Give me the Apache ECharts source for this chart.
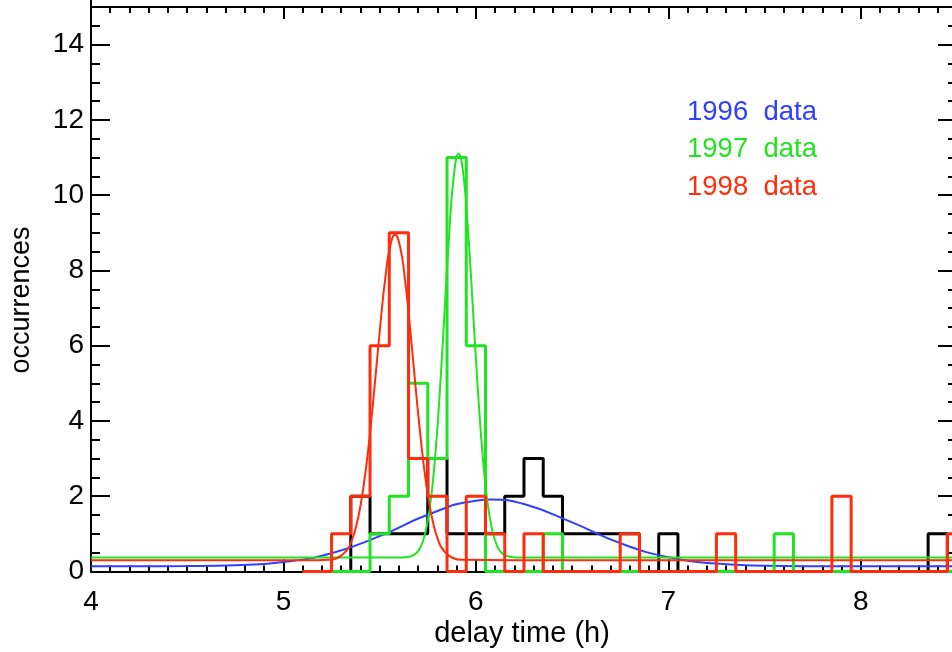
<!DOCTYPE html>
<html><head><meta charset="utf-8">
<script src="https://cdn.jsdelivr.net/npm/echarts@6/dist/echarts.min.js"></script>
<style>html,body{margin:0;padding:0;background:#fff}#c{width:952px;height:652px}</style>
</head><body><div id="c"></div>
<script>
// ---- data ----
const binWidth = 0.1;
const firstBinCenter = 5.1;
// histogram counts per 0.1 h bin, starting at bin centre 5.1 h
const counts1996 = [0,0,0,2,1,1,1,3,1,1,1,2,3,2,1,1,1,1,0,1,0,0,0,0,0,0,0,0,0,0,0,0,0,1,0];
const counts1997 = [0,0,0,0,1,2,5,3,11,6,0,0,0,1,0,0,0,0,0,0,0,0,0,0,0,1,0,0,0,0,0,0,0,0,0];
const counts1998 = [0,0,1,2,6,9,3,2,0,2,1,0,1,0,0,0,0,1,0,0,0,0,1,0,0,0,0,0,2,0,0,0,0,0,1];
// fitted curves
const fitX1996 = [4.0,4.25,4.5,4.75,5.0,5.25,5.5,5.75,6.0,6.08,6.25,6.5,6.75,7.0,7.25,7.5,7.75,8.0,8.5];
const fitY1996 = [0.14,0.141,0.145,0.167,0.252,0.487,0.939,1.508,1.883,1.91,1.793,1.306,0.753,0.379,0.21,0.155,0.142,0.14,0.14];
const fitX1997 = [4.0,5.0,5.5,5.61,5.66,5.685,5.71,5.735,5.76,5.785,5.81,5.835,5.86,5.885,5.91,5.935,5.96,5.985,6.01,6.035,6.06,6.085,6.11,6.135,6.16,6.21,6.5,7.5,8.5];
const fitY1997 = [0.37,0.37,0.37,0.372,0.40,0.463,0.62,0.98,1.67,2.85,4.57,6.70,8.86,10.49,11.10,10.55,9.0,6.95,4.85,3.1,1.85,1.1,0.68,0.49,0.41,0.375,0.37,0.37,0.37];
const fitX1998 = [4.0,5.0,5.18,5.23,5.28,5.33,5.355,5.38,5.405,5.43,5.455,5.48,5.505,5.53,5.555,5.58,5.605,5.63,5.655,5.68,5.705,5.73,5.755,5.78,5.805,5.83,5.88,5.93,6.2,7.5,8.5];
const fitY1998 = [0.3,0.3,0.30,0.31,0.359,0.571,0.823,1.243,1.886,2.79,3.94,5.27,6.63,7.83,8.655,8.95,8.655,7.83,6.63,5.27,3.94,2.79,1.886,1.243,0.823,0.571,0.359,0.31,0.3,0.3,0.3];
const xTicks = {min: 4, max: 9, step: 1};
const yTicks = {min: 0, max: 16, step: 2};
const legendLabels = ['1996  data', '1997  data', '1998  data'];
const xTitle = 'delay time (h)';
const yTitle = 'occurrences';

// ---- styling ----
const BLUE = '#2f3fff', GREEN = '#1fe41f', RED = '#ff2d0c';
const FONT = '"Liberation Sans", Arial, sans-serif';

function histData(counts) {
  return counts.map((c, i) => [Number((firstBinCenter + i * binWidth).toFixed(2)), c]);
}
function zip(xs, ys) { return xs.map((x, i) => [x, ys[i]]); }

const chart = echarts.init(document.getElementById('c'), null, {renderer: 'canvas'});
const axisLine = {show: true, onZero: false, lineStyle: {color: '#000', width: 2}};
const noSplit = {show: false};

const option = {
  animation: false,
  backgroundColor: '#fff',
  grid: [
    {left: 91, right: -101.2, top: -30.63, bottom: 80.5, outerBoundsMode: 'none', containLabel: false},
    {left: 91, right: -101.2, top: 7, bottom: 80.5, outerBoundsMode: 'none', containLabel: false},
    {left: 91, right: -5, top: -30.63, bottom: 80.5, outerBoundsMode: 'none', containLabel: false}
  ],
  xAxis: [
    {gridIndex: 0, type: 'value', min: xTicks.min, max: xTicks.max, interval: xTicks.step, position: 'bottom',
     axisLine: axisLine, splitLine: noSplit,
     axisTick: {show: true, inside: true, length: 12, lineStyle: {color: '#000', width: 2}},
     minorTick: {show: true, splitNumber: 10, length: 6, lineStyle: {color: '#000', width: 2}},
     axisLabel: {show: true, color: '#000', fontSize: 28, fontFamily: FONT, margin: 17, showMaxLabel: false}},
    {gridIndex: 1, type: 'value', min: xTicks.min, max: xTicks.max, interval: xTicks.step, position: 'top',
     axisLine: axisLine, splitLine: noSplit,
     axisTick: {show: true, inside: true, length: 12, lineStyle: {color: '#000', width: 2}},
     minorTick: {show: true, splitNumber: 10, length: 6, lineStyle: {color: '#000', width: 2}},
     axisLabel: {show: false}},
    {gridIndex: 2, type: 'value', min: 4, max: 8.5, show: false}
  ],
  yAxis: [
    {gridIndex: 0, type: 'value', min: yTicks.min, max: yTicks.max, interval: yTicks.step, position: 'left',
     axisLine: axisLine, splitLine: noSplit,
     axisTick: {show: true, inside: true, length: 19, lineStyle: {color: '#000', width: 2}},
     minorTick: {show: true, splitNumber: 4, length: 9, lineStyle: {color: '#000', width: 2}},
     axisLabel: {show: true, color: '#000', fontSize: 28, fontFamily: FONT, margin: 7, showMaxLabel: false}},
    {gridIndex: 1, type: 'value', min: 0, max: 15, show: false},
    {gridIndex: 2, type: 'value', min: yTicks.min, max: yTicks.max, interval: yTicks.step, position: 'right',
     axisLine: axisLine, splitLine: noSplit,
     axisTick: {show: true, inside: true, length: 19, lineStyle: {color: '#000', width: 2}},
     minorTick: {show: true, splitNumber: 4, length: 9, lineStyle: {color: '#000', width: 2}},
     axisLabel: {show: false}}
  ],
  series: [
    {name: '1996 hist', type: 'line', xAxisIndex: 0, yAxisIndex: 0, step: 'middle', symbol: 'none',
     data: histData(counts1996), lineStyle: {color: '#000', width: 3}, z: 3},
    {name: '1996 fit', type: 'line', xAxisIndex: 0, yAxisIndex: 0, smooth: true, symbol: 'none',
     data: zip(fitX1996, fitY1996), lineStyle: {color: BLUE, width: 2}, z: 4},
    {name: '1997 hist', type: 'line', xAxisIndex: 0, yAxisIndex: 0, step: 'middle', symbol: 'none',
     data: histData(counts1997), lineStyle: {color: GREEN, width: 3}, z: 5},
    {name: '1997 fit', type: 'line', xAxisIndex: 0, yAxisIndex: 0, smooth: true, symbol: 'none',
     data: zip(fitX1997, fitY1997), lineStyle: {color: GREEN, width: 2}, z: 6},
    {name: '1998 hist', type: 'line', xAxisIndex: 0, yAxisIndex: 0, step: 'middle', symbol: 'none',
     data: histData(counts1998), lineStyle: {color: RED, width: 3}, z: 7},
    {name: '1998 fit', type: 'line', xAxisIndex: 0, yAxisIndex: 0, smooth: true, symbol: 'none',
     data: zip(fitX1998, fitY1998), lineStyle: {color: RED, width: 2}, z: 8}
  ],
  graphic: [
    {type: 'text', x: 522, y: 634, style: {text: xTitle, fill: '#000', fontSize: 29, fontFamily: FONT, align: 'center', verticalAlign: 'middle'}},
    {type: 'text', x: 22, y: 300, rotation: Math.PI / 2, style: {text: yTitle, fill: '#000', fontSize: 27, fontFamily: FONT, align: 'center', verticalAlign: 'middle'}},
    {type: 'text', x: 687, y: 112, style: {text: legendLabels[0], fill: BLUE, fontSize: 27.5, fontFamily: FONT, align: 'left', verticalAlign: 'middle'}},
    {type: 'text', x: 687, y: 149.5, style: {text: legendLabels[1], fill: GREEN, fontSize: 27.5, fontFamily: FONT, align: 'left', verticalAlign: 'middle'}},
    {type: 'text', x: 687, y: 187, style: {text: legendLabels[2], fill: RED, fontSize: 27.5, fontFamily: FONT, align: 'left', verticalAlign: 'middle'}}
  ]
};
chart.setOption(option);
</script>
</body></html>
